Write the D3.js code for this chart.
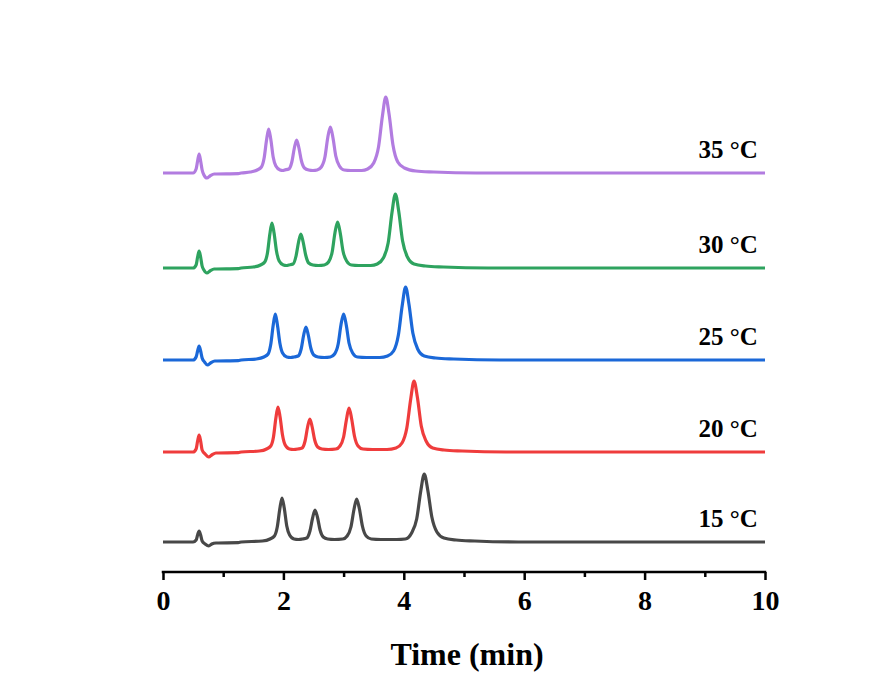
<!DOCTYPE html>
<html>
<head>
<meta charset="utf-8">
<script src="https://cdn.jsdelivr.net/npm/d3@7/dist/d3.min.js"></script>
<style>
  html, body { margin: 0; padding: 0; background: #ffffff; }
  svg { display: block; }
</style>
</head>
<body>
<svg id="chart" width="874" height="675"></svg>
<script>
// ---------------- DATA ----------------
const seriesNames = ["15 °C", "20 °C", "25 °C", "30 °C", "35 °C"];
const seriesColors = ["#484848", "#ef3c3c", "#1b68d8", "#2ea35f", "#b27ce0"];
// vertical offset of each trace (signal units)
const seriesOffsets = [30, 120, 212, 304, 399];

const xTicks = [0, 2, 4, 6, 8, 10];
const xMinorTicks = [1, 3, 5, 7, 9];
const xLabel = "Time (min)";

const time15 = [0, 0.50, 0.55, 0.575, 0.60, 0.625, 0.65, 0.70, 0.76, 0.81, 0.88, 1.25, 1.30, 1.65,
  1.777, 1.851, 1.898, 1.940, 1.977, 2.014, 2.056, 2.103, 2.177,
  2.25,
  2.315, 2.388, 2.441, 2.485, 2.525, 2.565, 2.609, 2.662, 2.735,
  2.85,
  2.986, 3.059, 3.122, 3.171, 3.217, 3.263, 3.312, 3.375, 3.459,
  3.62, 3.88,
  4.025, 4.130, 4.214, 4.282, 4.340, 4.398, 4.466, 4.550, 4.666,
  4.87, 5.18, 5.9, 10];
const signal15 = [0, 0, 2, 7, 11, 7, 1, -2, -4, -2, -1, -0.6, 0, 1,
  3, 6, 15, 33, 44, 34, 16, 7, 3,
  2.5,
  3, 4, 11, 24, 32, 25, 12, 5, 3,
  2.5,
  3, 6, 15, 32, 43, 33, 16, 6, 3,
  2.5, 2.5,
  3, 9, 23, 51, 68, 52, 25, 10, 4,
  2, 1, 0, 0];

const time20 = [0, 0.50, 0.55, 0.575, 0.60, 0.625, 0.65, 0.70, 0.76, 0.81, 0.88, 1.25, 1.30, 1.60,
  1.720, 1.790, 1.835, 1.875, 1.910, 1.945, 1.985, 2.030, 2.100,
  2.17,
  2.240, 2.310, 2.360, 2.402, 2.440, 2.478, 2.520, 2.570, 2.640,
  2.75,
  2.870, 2.940, 3.000, 3.046, 3.090, 3.134, 3.180, 3.240, 3.320,
  3.48, 3.72,
  3.870, 3.970, 4.050, 4.115, 4.170, 4.225, 4.290, 4.370, 4.480,
  4.67, 4.97, 5.7, 10];
const signal20 = [0, 0, 3, 11, 17, 11, 2, -2, -5, -3, -1, -0.6, 0, 1,
  3, 6, 15, 34, 45, 35, 17, 7, 3,
  2.5,
  3, 4, 11, 25, 33, 25, 12, 5, 3,
  2.5,
  3, 6, 15, 32, 44, 33, 16, 6, 3,
  2.5, 2.5,
  4, 9, 24, 53, 71, 55, 26, 11, 4,
  2, 1, 0, 0];

const time25 = [0, 0.50, 0.55, 0.575, 0.60, 0.625, 0.65, 0.69, 0.74, 0.79, 0.86, 1.25, 1.30, 1.55,
  1.676, 1.746, 1.791, 1.831, 1.866, 1.901, 1.941, 1.986, 2.056,
  2.12,
  2.175, 2.245, 2.295, 2.337, 2.375, 2.413, 2.455, 2.505, 2.575,
  2.68,
  2.780, 2.850, 2.910, 2.956, 3.000, 3.044, 3.090, 3.150, 3.230,
  3.38, 3.60,
  3.730, 3.830, 3.910, 3.975, 4.030, 4.085, 4.150, 4.230, 4.340,
  4.53, 4.83, 5.6, 10];
const signal25 = [0, 0, 3, 9, 14, 9, 2, -2, -5, -3, -1, -0.6, 0, 1,
  3, 6, 16, 35, 46, 35, 17, 7, 3,
  2.5,
  3, 4, 11, 25, 33, 25, 12, 5, 3,
  2.5,
  3, 6, 16, 35, 46, 35, 17, 7, 3,
  2.5, 2.5,
  4, 9, 25, 55, 73, 56, 27, 11, 4,
  2, 1, 0, 0];

const time30 = [0, 0.50, 0.55, 0.575, 0.60, 0.625, 0.65, 0.68, 0.73, 0.78, 0.85, 1.25, 1.30, 1.50,
  1.620, 1.690, 1.735, 1.775, 1.810, 1.845, 1.885, 1.930, 2.000,
  2.05,
  2.090, 2.160, 2.210, 2.252, 2.290, 2.328, 2.370, 2.420, 2.490,
  2.58,
  2.680, 2.750, 2.810, 2.856, 2.900, 2.944, 2.990, 3.050, 3.130,
  3.25, 3.45,
  3.560, 3.660, 3.740, 3.805, 3.860, 3.915, 3.980, 4.060, 4.170,
  4.36, 4.66, 5.4, 10];
const signal30 = [0, 0, 3, 11, 17, 11, 2, -2, -5, -3, -1, -0.6, 0, 1,
  3, 6, 15, 34, 45, 35, 17, 7, 3,
  2.5,
  3, 4, 12, 26, 34, 26, 13, 5, 3,
  2.5,
  3, 6, 16, 35, 46, 35, 17, 7, 3,
  2.5, 2.5,
  4, 10, 25, 56, 74, 57, 27, 11, 4,
  2, 1, 0, 0];

const time35 = [0, 0.50, 0.55, 0.575, 0.60, 0.625, 0.65, 0.68, 0.73, 0.78, 0.85, 1.25, 1.30, 1.45,
  1.565, 1.635, 1.680, 1.720, 1.755, 1.790, 1.830, 1.875, 1.945,
  1.99,
  2.020, 2.090, 2.140, 2.182, 2.220, 2.258, 2.300, 2.350, 2.420,
  2.49,
  2.560, 2.630, 2.690, 2.736, 2.780, 2.824, 2.870, 2.930, 3.010,
  3.12, 3.30,
  3.400, 3.500, 3.580, 3.645, 3.700, 3.755, 3.820, 3.900, 4.010,
  4.20, 4.50, 5.2, 10];
const signal35 = [0, 0, 4, 12, 19, 12, 3, -2, -5, -3, -1, -0.6, 0, 1,
  3, 6, 15, 33, 44, 34, 16, 7, 3,
  2.5,
  3, 4, 11, 25, 33, 25, 12, 5, 3,
  2.5,
  3, 6, 16, 35, 46, 35, 17, 7, 3,
  2.5, 2.5,
  4, 10, 26, 57, 76, 59, 28, 11, 5,
  2, 1, 0, 0];

const seriesTimes = [time15, time20, time25, time30, time35];
const seriesSignals = [signal15, signal20, signal25, signal30, signal35];

// ---------------- DRAWING ----------------
const svg = d3.select("#chart");
const W = 874, H = 675;
const margin = { left: 163, right: 109, top: 72, bottom: 103 };

svg.append("rect").attr("width", W).attr("height", H).attr("fill", "#ffffff");

const x = d3.scaleLinear().domain([0, 10]).range([margin.left, W - margin.right]);
const y = d3.scaleLinear().domain([0, 500]).range([H - margin.bottom, margin.top]);

const FONT = "'Liberation Serif', 'Times New Roman', Times, serif";

const line = d3.line()
  .x(d => x(d[0]))
  .y(d => y(d[1]))
  .curve(d3.curveMonotoneX);

seriesNames.forEach((name, i) => {
  const pts = seriesTimes[i].map((t, j) => [t, seriesSignals[i][j] + seriesOffsets[i]]);
  svg.append("path")
    .datum(pts)
    .attr("fill", "none")
    .attr("stroke", seriesColors[i])
    .attr("stroke-width", 3.2)
    .attr("stroke-linejoin", "round")
    .attr("stroke-linecap", "butt")
    .attr("d", line);

  svg.append("text")
    .attr("x", x(9.88))
    .attr("y", y(seriesOffsets[i] + 15))
    .attr("text-anchor", "end")
    .attr("font-family", FONT)
    .attr("font-weight", "bold")
    .attr("font-size", 25)
    .attr("fill", "#000")
    .text(name);
});

// X axis
const axisY = y(0);
const axisG = svg.append("g").attr("transform", `translate(0,${axisY})`);

const xAxis = d3.axisBottom(x)
  .tickValues(xTicks)
  .tickSize(8)
  .tickPadding(10)
  .tickFormat(d3.format("d"));
axisG.call(xAxis);
axisG.select(".domain").remove();
axisG.selectAll(".tick line").attr("stroke", "#000").attr("stroke-width", 2.5);
axisG.selectAll(".tick text")
  .attr("font-family", FONT)
  .attr("font-weight", "bold")
  .attr("font-size", 28)
  .attr("fill", "#000");

const minorAxis = d3.axisBottom(x)
  .tickValues(xMinorTicks)
  .tickSize(5)
  .tickFormat("");
const minorG = svg.append("g").attr("transform", `translate(0,${axisY})`).call(minorAxis);
minorG.select(".domain").remove();
minorG.selectAll(".tick line").attr("stroke", "#000").attr("stroke-width", 2.5);

svg.append("line")
  .attr("x1", x(0) - 1.25).attr("x2", x(10) + 1.25)
  .attr("y1", axisY).attr("y2", axisY)
  .attr("stroke", "#000").attr("stroke-width", 2.5);

svg.append("text")
  .attr("x", x(5) + 3)
  .attr("y", 665)
  .attr("text-anchor", "middle")
  .attr("font-family", FONT)
  .attr("font-weight", "bold")
  .attr("font-size", 32)
  .attr("fill", "#000")
  .text(xLabel);
</script>
</body>
</html>
